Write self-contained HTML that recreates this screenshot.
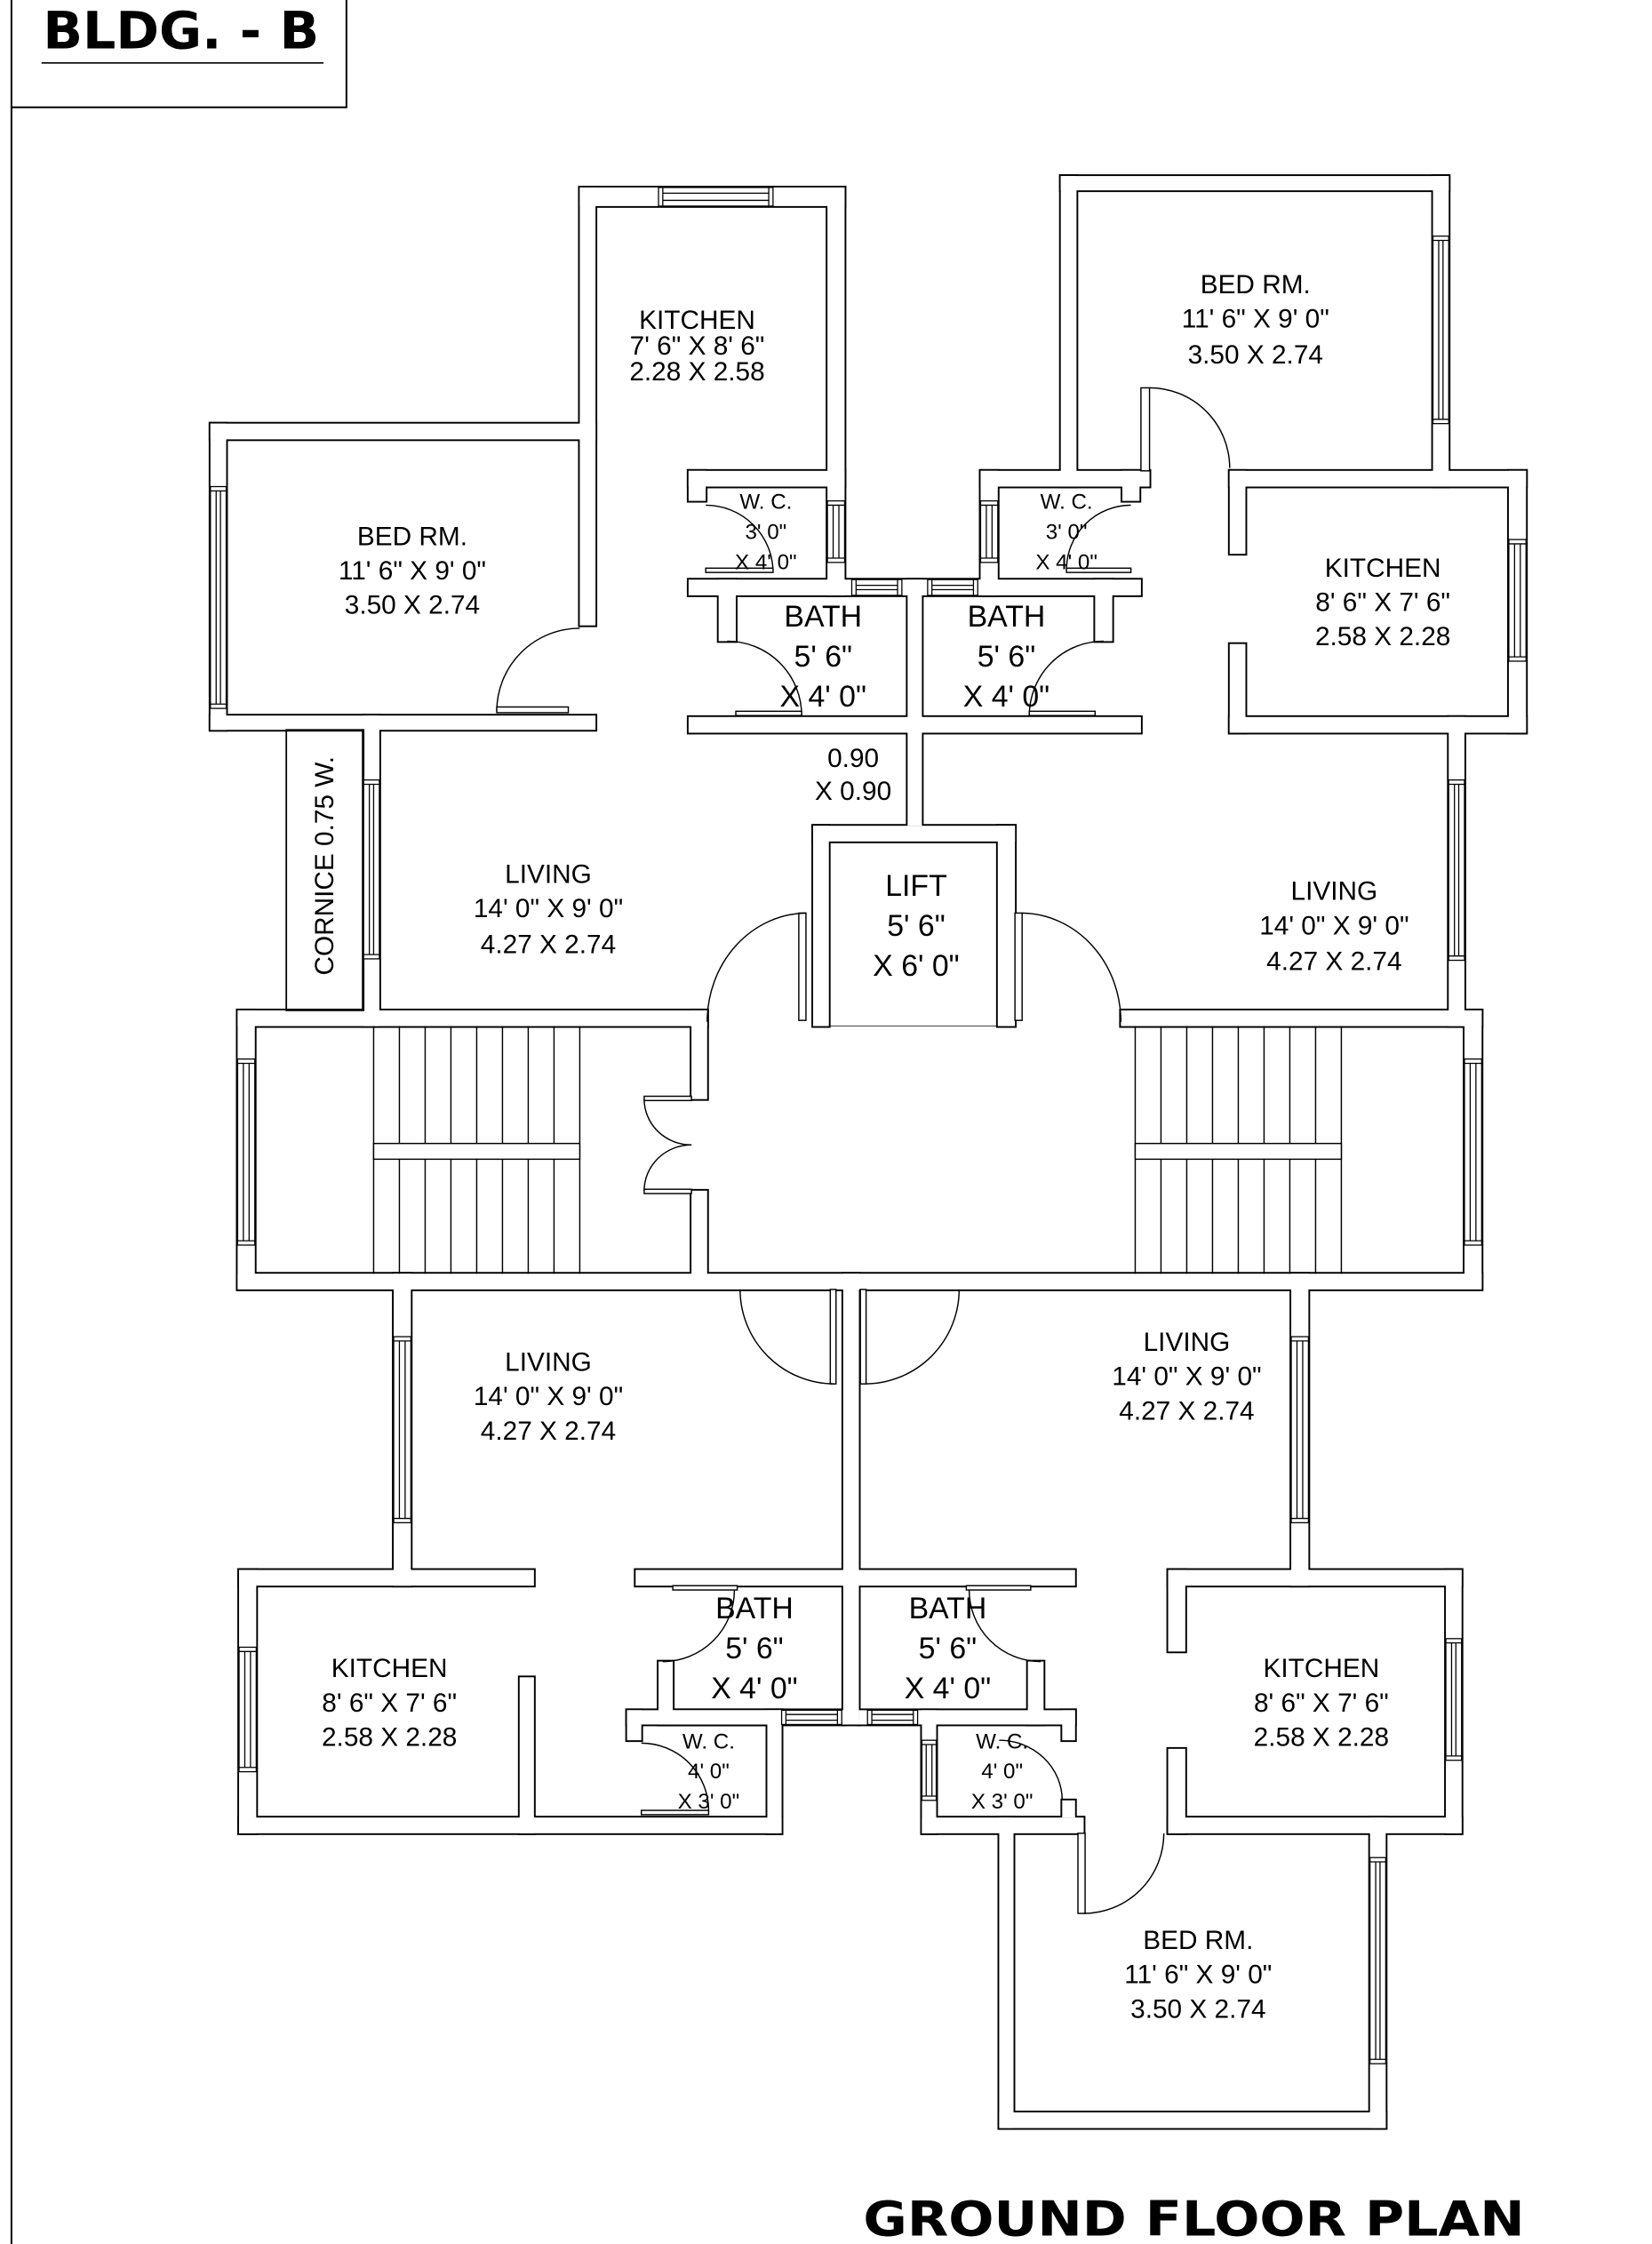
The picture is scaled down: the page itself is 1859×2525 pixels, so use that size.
<!DOCTYPE html>
<html><head><meta charset="utf-8"><style>
html,body{margin:0;padding:0;background:#fff}
svg{display:block}
text{font-family:"Liberation Sans",sans-serif;fill:#000}
</style></head><body>
<svg width="1859" height="2525" viewBox="0 0 1154 1568" preserveAspectRatio="none" xmlns="http://www.w3.org/2000/svg">
<rect x="0" y="0" width="1154" height="1568" fill="#fff"/>
<line x1="8" y1="0" x2="8" y2="1568" stroke="#000" stroke-width="1.2"/>
<polyline points="8,75 242,75 242,0" fill="none" stroke="#000" stroke-width="1.2"/>
<text x="30" y="34" font-size="36" font-weight="bold" style="font-family:'DejaVu Sans','Liberation Sans',sans-serif" textLength="193" lengthAdjust="spacingAndGlyphs">BLDG. - B</text>
<line x1="29" y1="44" x2="226" y2="44" stroke="#000" stroke-width="1"/>
<text x="603" y="1562" font-size="34" font-weight="bold" style="font-family:'DejaVu Sans','Liberation Sans',sans-serif" textLength="462" lengthAdjust="spacingAndGlyphs">GROUND FLOOR PLAN</text>

<defs>
<g id="walls">
<rect x="405" y="131" width="185" height="13"/>
<rect x="405" y="131" width="11" height="306"/>
<rect x="147" y="296" width="269" height="11"/>
<rect x="147" y="296" width="11" height="214"/>
<rect x="147" y="500" width="269" height="10"/>
<rect x="578" y="131" width="12" height="285"/>
<rect x="481" y="329" width="109" height="11"/>
<rect x="481" y="329" width="12" height="21"/>
<rect x="481" y="405" width="316" height="11"/>
<rect x="502" y="405" width="12" height="43"/>
<rect x="481" y="501" width="316" height="11"/>
<rect x="634" y="405" width="10" height="172"/>
<rect x="685" y="329" width="12" height="87"/>
<rect x="685" y="329" width="118" height="11"/>
<rect x="784" y="329" width="12" height="21"/>
<rect x="765" y="405" width="12" height="43"/>
<rect x="741" y="123" width="11" height="217"/>
<rect x="741" y="123" width="271" height="10"/>
<rect x="1001" y="123" width="11" height="217"/>
<rect x="859" y="329" width="207" height="11"/>
<rect x="1054" y="329" width="12" height="183"/>
<rect x="859" y="329" width="11" height="58"/>
<rect x="859" y="450" width="11" height="62"/>
<rect x="859" y="501" width="207" height="11"/>
<rect x="1012" y="501" width="11" height="216"/>
<rect x="254" y="500" width="11" height="217"/>
<rect x="568" y="577" width="141" height="11"/>
<rect x="568" y="577" width="11" height="140"/>
<rect x="697" y="577" width="12" height="140"/>
<rect x="166" y="706" width="328" height="11"/>
<rect x="783" y="706" width="252" height="11"/>
<rect x="166" y="706" width="12" height="194"/>
<rect x="1023" y="706" width="12" height="194"/>
<rect x="483" y="706" width="11" height="62"/>
<rect x="483" y="832" width="11" height="68"/>
<rect x="166" y="890" width="869" height="11"/>
<rect x="275" y="890" width="12" height="218"/>
<rect x="589" y="890" width="11" height="315"/>
<rect x="902" y="890" width="12" height="218"/>
<rect x="167" y="1097" width="206" height="11"/>
<rect x="167" y="1097" width="12" height="184"/>
<rect x="363" y="1172" width="10" height="109"/>
<rect x="167" y="1270" width="379" height="11"/>
<rect x="438" y="1195" width="108" height="10"/>
<rect x="438" y="1195" width="10" height="21"/>
<rect x="536" y="1195" width="10" height="86"/>
<rect x="444" y="1097" width="307" height="11"/>
<rect x="460" y="1161" width="10" height="44"/>
<rect x="460" y="1195" width="130" height="10"/>
<rect x="600" y="1195" width="151" height="10"/>
<rect x="718" y="1161" width="11" height="44"/>
<rect x="644" y="1195" width="10" height="86"/>
<rect x="742" y="1195" width="9" height="21"/>
<rect x="742" y="1258" width="9" height="12"/>
<rect x="644" y="1270" width="113" height="11"/>
<rect x="698" y="1270" width="10" height="217"/>
<rect x="698" y="1476" width="270" height="11"/>
<rect x="957" y="1270" width="11" height="217"/>
<rect x="816" y="1097" width="205" height="11"/>
<rect x="816" y="1097" width="12" height="57"/>
<rect x="816" y="1222" width="12" height="59"/>
<rect x="1010" y="1097" width="11" height="184"/>
<rect x="816" y="1270" width="205" height="11"/>
</g>
</defs>
<use href="#walls" fill="#fff" stroke="#000" stroke-width="2.4"/>
<use href="#walls" fill="#fff" stroke="none"/>

<rect x="200" y="510" width="54" height="196" fill="none" stroke="#000" stroke-width="1.1"/>
<text x="0" y="0" font-size="18.5" text-anchor="middle" dominant-baseline="central" transform="translate(227,605) rotate(-90)">CORNICE 0.75 W.</text>

<g fill="#fff" stroke="#000" stroke-width="0.8">
<rect x="460" y="131" width="80" height="13"/><line x1="463" y1="135" x2="537" y2="135"/><line x1="463" y1="140" x2="537" y2="140"/><line x1="463" y1="131" x2="463" y2="144"/><line x1="537" y1="131" x2="537" y2="144"/>
<rect x="595" y="405" width="35" height="11"/><line x1="598" y1="409" x2="627" y2="409"/><line x1="598" y1="412" x2="627" y2="412"/><line x1="598" y1="405" x2="598" y2="416"/><line x1="627" y1="405" x2="627" y2="416"/>
<rect x="648" y="405" width="35" height="11"/><line x1="651" y1="409" x2="680" y2="409"/><line x1="651" y1="412" x2="680" y2="412"/><line x1="651" y1="405" x2="651" y2="416"/><line x1="680" y1="405" x2="680" y2="416"/>
<rect x="546" y="1195" width="42" height="10"/><line x1="549" y1="1198" x2="585" y2="1198"/><line x1="549" y1="1202" x2="585" y2="1202"/><line x1="549" y1="1195" x2="549" y2="1205"/><line x1="585" y1="1195" x2="585" y2="1205"/>
<rect x="606" y="1195" width="35" height="10"/><line x1="609" y1="1198" x2="638" y2="1198"/><line x1="609" y1="1202" x2="638" y2="1202"/><line x1="609" y1="1195" x2="609" y2="1205"/><line x1="638" y1="1195" x2="638" y2="1205"/>
</g>
<g fill="#fff" stroke="#000" stroke-width="0.8">
<rect x="147" y="340" width="11" height="155"/><line x1="151" y1="343" x2="151" y2="492"/><line x1="154" y1="343" x2="154" y2="492"/><line x1="147" y1="343" x2="158" y2="343"/><line x1="147" y1="492" x2="158" y2="492"/>
<rect x="578" y="350" width="12" height="43"/><line x1="582" y1="353" x2="582" y2="390"/><line x1="586" y1="353" x2="586" y2="390"/><line x1="578" y1="353" x2="590" y2="353"/><line x1="578" y1="390" x2="590" y2="390"/>
<rect x="685" y="350" width="12" height="43"/><line x1="689" y1="353" x2="689" y2="390"/><line x1="693" y1="353" x2="693" y2="390"/><line x1="685" y1="353" x2="697" y2="353"/><line x1="685" y1="390" x2="697" y2="390"/>
<rect x="1001" y="165" width="11" height="131"/><line x1="1005" y1="168" x2="1005" y2="293"/><line x1="1008" y1="168" x2="1008" y2="293"/><line x1="1001" y1="168" x2="1012" y2="168"/><line x1="1001" y1="293" x2="1012" y2="293"/>
<rect x="1054" y="377" width="12" height="85"/><line x1="1058" y1="380" x2="1058" y2="459"/><line x1="1062" y1="380" x2="1062" y2="459"/><line x1="1054" y1="380" x2="1066" y2="380"/><line x1="1054" y1="459" x2="1066" y2="459"/>
<rect x="1012" y="545" width="11" height="126"/><line x1="1016" y1="548" x2="1016" y2="668"/><line x1="1019" y1="548" x2="1019" y2="668"/><line x1="1012" y1="548" x2="1023" y2="548"/><line x1="1012" y1="668" x2="1023" y2="668"/>
<rect x="254" y="545" width="11" height="125"/><line x1="258" y1="548" x2="258" y2="667"/><line x1="261" y1="548" x2="261" y2="667"/><line x1="254" y1="548" x2="265" y2="548"/><line x1="254" y1="667" x2="265" y2="667"/>
<rect x="166" y="740" width="12" height="130"/><line x1="170" y1="743" x2="170" y2="867"/><line x1="174" y1="743" x2="174" y2="867"/><line x1="166" y1="743" x2="178" y2="743"/><line x1="166" y1="867" x2="178" y2="867"/>
<rect x="1023" y="740" width="12" height="130"/><line x1="1027" y1="743" x2="1027" y2="867"/><line x1="1031" y1="743" x2="1031" y2="867"/><line x1="1023" y1="743" x2="1035" y2="743"/><line x1="1023" y1="867" x2="1035" y2="867"/>
<rect x="275" y="934" width="12" height="130"/><line x1="279" y1="937" x2="279" y2="1061"/><line x1="283" y1="937" x2="283" y2="1061"/><line x1="275" y1="937" x2="287" y2="937"/><line x1="275" y1="1061" x2="287" y2="1061"/>
<rect x="902" y="934" width="12" height="130"/><line x1="906" y1="937" x2="906" y2="1061"/><line x1="910" y1="937" x2="910" y2="1061"/><line x1="902" y1="937" x2="914" y2="937"/><line x1="902" y1="1061" x2="914" y2="1061"/>
<rect x="167" y="1151" width="12" height="87"/><line x1="171" y1="1154" x2="171" y2="1235"/><line x1="175" y1="1154" x2="175" y2="1235"/><line x1="167" y1="1154" x2="179" y2="1154"/><line x1="167" y1="1235" x2="179" y2="1235"/>
<rect x="1010" y="1145" width="11" height="85"/><line x1="1014" y1="1148" x2="1014" y2="1227"/><line x1="1017" y1="1148" x2="1017" y2="1227"/><line x1="1010" y1="1148" x2="1021" y2="1148"/><line x1="1010" y1="1227" x2="1021" y2="1227"/>
<rect x="644" y="1216" width="10" height="42"/><line x1="647" y1="1219" x2="647" y2="1255"/><line x1="651" y1="1219" x2="651" y2="1255"/><line x1="644" y1="1219" x2="654" y2="1219"/><line x1="644" y1="1255" x2="654" y2="1255"/>
<rect x="957" y="1298" width="11" height="144"/><line x1="961" y1="1301" x2="961" y2="1439"/><line x1="964" y1="1301" x2="964" y2="1439"/><line x1="957" y1="1301" x2="968" y2="1301"/><line x1="957" y1="1439" x2="968" y2="1439"/>
</g>

<g stroke="#000" stroke-width="0.9" fill="none">
<line x1="261" y1="717" x2="261" y2="890"/><line x1="279" y1="717" x2="279" y2="890"/><line x1="297" y1="717" x2="297" y2="890"/><line x1="315" y1="717" x2="315" y2="890"/><line x1="333" y1="717" x2="333" y2="890"/><line x1="351" y1="717" x2="351" y2="890"/><line x1="369" y1="717" x2="369" y2="890"/><line x1="387" y1="717" x2="387" y2="890"/><line x1="405" y1="717" x2="405" y2="890"/>
<rect x="261" y="799" width="144" height="11" fill="#fff"/>
<line x1="793" y1="717" x2="793" y2="890"/><line x1="811" y1="717" x2="811" y2="890"/><line x1="829" y1="717" x2="829" y2="890"/><line x1="847" y1="717" x2="847" y2="890"/><line x1="865" y1="717" x2="865" y2="890"/><line x1="883" y1="717" x2="883" y2="890"/><line x1="901" y1="717" x2="901" y2="890"/><line x1="919" y1="717" x2="919" y2="890"/><line x1="937" y1="717" x2="937" y2="890"/>
<rect x="793" y="799" width="144" height="11" fill="#fff"/>
<line x1="579" y1="717" x2="697" y2="717" stroke-width="0.5"/>
</g>

<g stroke="#000" stroke-width="0.9" fill="none">
<path d="M405,439 A58,58 0 0 0 347,497"/><rect x="347" y="494" width="50" height="4" fill="#fff"/>
<path d="M493,353 A47,47 0 0 1 540,400"/><rect x="493" y="397" width="47" height="3" fill="#fff"/>
<path d="M508,448 A52,52 0 0 1 560,500"/><rect x="514" y="497" width="46" height="3" fill="#fff"/>
<path d="M790,353 A45,45 0 0 0 745,398"/><rect x="745" y="397" width="45" height="3" fill="#fff"/>
<path d="M771,448 A52,52 0 0 0 719,500"/><rect x="719" y="497" width="46" height="3" fill="#fff"/>
<rect x="797" y="271" width="6" height="58" fill="#fff"/><path d="M803,271 A56,56 0 0 1 859,327"/>
<rect x="558" y="638" width="5" height="75" fill="#fff"/><path d="M563,638 A70,76 0 0 0 494,714"/>
<rect x="709" y="638" width="5" height="75" fill="#fff"/><path d="M714,638 A70,76 0 0 1 783,714"/>
<rect x="450" y="766" width="33" height="3" fill="#fff"/><path d="M450,768 A33,32 0 0 0 483,800"/>
<rect x="450" y="831" width="33" height="3" fill="#fff"/><path d="M450,832 A33,32 0 0 1 483,800"/>
<rect x="580" y="901" width="4" height="66" fill="#fff"/><path d="M517,901 A66,66 0 0 0 583,967"/>
<rect x="601" y="901" width="4" height="66" fill="#fff"/><path d="M670,901 A66,66 0 0 1 604,967"/>
<path d="M463,1161 A50,50 0 0 0 513,1111"/><rect x="470" y="1108" width="45" height="3" fill="#fff"/>
<path d="M448,1218 A47,47 0 0 1 495,1265"/><rect x="448" y="1265" width="47" height="3" fill="#fff"/>
<path d="M727,1161 A50,50 0 0 1 677,1111"/><rect x="675" y="1108" width="45" height="3" fill="#fff"/>
<path d="M742,1258 A44,42 0 0 0 698,1216"/>
<rect x="753" y="1281" width="5" height="56" fill="#fff"/><path d="M757,1337 A56,56 0 0 0 813,1281"/>
</g>

<g font-size="18.5" text-anchor="middle" dominant-baseline="central">
<text x="487" y="224">KITCHEN</text><text x="487" y="242">7' 6" X 8' 6"</text><text x="487" y="260">2.28 X 2.58</text>
<text x="288" y="375">BED RM.</text><text x="288" y="399">11' 6" X 9' 0"</text><text x="288" y="423">3.50 X 2.74</text>
<text x="877" y="199">BED RM.</text><text x="877" y="223">11' 6" X 9' 0"</text><text x="877" y="248">3.50 X 2.74</text>
<text x="966" y="397">KITCHEN</text><text x="966" y="421">8' 6" X 7' 6"</text><text x="966" y="445">2.58 X 2.28</text>
<text x="596" y="530">0.90</text><text x="596" y="553">X 0.90</text>
<text x="383" y="611">LIVING</text><text x="383" y="635">14' 0" X 9' 0"</text><text x="383" y="660">4.27 X 2.74</text>
<text x="932" y="623">LIVING</text><text x="932" y="647">14' 0" X 9' 0"</text><text x="932" y="672">4.27 X 2.74</text>
<text x="383" y="952">LIVING</text><text x="383" y="976">14' 0" X 9' 0"</text><text x="383" y="1000">4.27 X 2.74</text>
<text x="829" y="938">LIVING</text><text x="829" y="962">14' 0" X 9' 0"</text><text x="829" y="986">4.27 X 2.74</text>
<text x="272" y="1166">KITCHEN</text><text x="272" y="1190">8' 6" X 7' 6"</text><text x="272" y="1214">2.58 X 2.28</text>
<text x="923" y="1166">KITCHEN</text><text x="923" y="1190">8' 6" X 7' 6"</text><text x="923" y="1214">2.58 X 2.28</text>
<text x="837" y="1356">BED RM.</text><text x="837" y="1380">11' 6" X 9' 0"</text><text x="837" y="1404">3.50 X 2.74</text>
</g>
<g font-size="21" text-anchor="middle" dominant-baseline="central">
<text x="575" y="431">BATH</text><text x="575" y="459">5' 6"</text><text x="575" y="487">X 4' 0"</text>
<text x="703" y="431">BATH</text><text x="703" y="459">5' 6"</text><text x="703" y="487">X 4' 0"</text>
<text x="640" y="619">LIFT</text><text x="640" y="647">5' 6"</text><text x="640" y="675">X 6' 0"</text>
<text x="527" y="1124">BATH</text><text x="527" y="1152">5' 6"</text><text x="527" y="1180">X 4' 0"</text>
<text x="662" y="1124">BATH</text><text x="662" y="1152">5' 6"</text><text x="662" y="1180">X 4' 0"</text>
</g>
<g font-size="15" text-anchor="middle" dominant-baseline="central">
<text x="535" y="351">W. C.</text><text x="535" y="372">3' 0"</text><text x="535" y="393">X 4' 0"</text>
<text x="745" y="351">W. C.</text><text x="745" y="372">3' 0"</text><text x="745" y="393">X 4' 0"</text>
<text x="495" y="1217">W. C.</text><text x="495" y="1238">4' 0"</text><text x="495" y="1259">X 3' 0"</text>
<text x="700" y="1217">W. C.</text><text x="700" y="1238">4' 0"</text><text x="700" y="1259">X 3' 0"</text>
</g>
</svg>
</body></html>
